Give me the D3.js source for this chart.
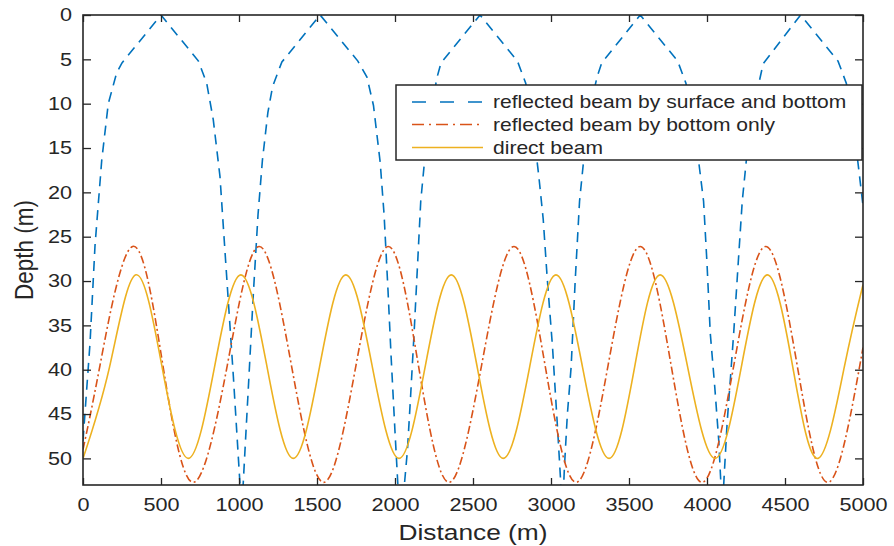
<!DOCTYPE html>
<html>
<head>
<meta charset="utf-8">
<script src="https://cdn.jsdelivr.net/npm/d3@7"></script>
<style>
  body { margin: 0; background: #fff; }
  text { font-family: "Liberation Sans", Arial, Helvetica, sans-serif; fill: #262626; }
</style>
</head>
<body>
<div id="stage"></div>
<script>
// ---- data ----
const xTicks = [0, 500, 1000, 1500, 2000, 2500, 3000, 3500, 4000, 4500, 5000];
const yTicks = [0, 5, 10, 15, 20, 25, 30, 35, 40, 45, 50];
const legendLabels = ["reflected beam by surface and bottom", "reflected beam by bottom only", "direct beam"];

// [distance (m), depth (m)]
const surfaceBottom = [
  [0, 48], [45, 37], [77, 26], [120, 16.4], [162, 10], [216, 6.5], [250, 5.4], [500, 0],
  [740, 5.2], [793, 7.7], [835, 11.8], [878, 18.2], [921, 29.5], [964, 40.8], [1006, 52.8], [1016, 56.5],
  [1028, 52.5], [1060, 42], [1092, 31.4], [1122, 22.5], [1150, 16.4], [1185, 11], [1215, 8.1], [1255, 6.2], [1275, 5.3], [1520, 0],
  [1762, 5.2], [1820, 7.0], [1862, 10.2], [1905, 16.6], [1930, 22.5], [1955, 31], [1975, 38.5], [2000, 47], [2020, 53.5], [2038, 57],
  [2055, 54], [2080, 49], [2100, 43], [2122, 36], [2145, 28], [2165, 21], [2200, 14.5], [2240, 9.8], [2270, 7], [2295, 5.4], [2545, 0],
  [2785, 5.2], [2838, 7.7], [2880, 11.8], [2922, 18.2], [2950, 23], [2975, 29.5], [3010, 37.5], [3040, 46], [3060, 52], [3073, 56.5],
  [3086, 51], [3105, 45], [3129, 39.7], [3155, 30], [3183, 21], [3220, 14.5], [3260, 9.8], [3295, 7], [3325, 5.4], [3572, 0],
  [3812, 5.2], [3865, 7.7], [3907, 11.8], [3950, 17], [3978, 21], [4000, 28], [4021, 35.9], [4050, 42], [4075, 47.9], [4098, 56],
  [4110, 52], [4129, 46], [4150, 41], [4171, 35.9], [4200, 28], [4226, 21], [4260, 15], [4300, 10.5], [4335, 7.5], [4360, 5.5], [4600, 0],
  [4840, 5.2], [4893, 7.7], [4935, 11.8], [4978, 18.2], [5000, 21.5]
];

const bottomOnly = [
  [0, 49], [109, 39.5], [318, 26.1], [512, 39.5], [707, 52.7], [925, 39.5], [1130, 26.1], [1336, 39.5],
  [1543, 52.7], [1750, 39.5], [1957, 26.1], [2150, 39.5], [2346, 52.7], [2555, 39.5], [2763, 26.1], [2962, 39.5],
  [3161, 52.7], [3366, 39.5], [3572, 26.1], [3770, 39.5], [3968, 52.7], [4172, 39.5], [4376, 26.1], [4578, 39.5],
  [4779, 52.7], [5000, 37.5]
];

const directBeam = [
  [0, 50], [170, 39.7], [340, 29.3], [507, 39.7], [675, 50], [843, 39.7], [1012, 29.3], [1180, 39.7],
  [1348, 50], [1516, 39.7], [1685, 29.3], [1855, 39.7], [2026, 50], [2193, 39.7], [2361, 29.3], [2527, 39.7],
  [2694, 50], [2863, 39.7], [3032, 29.3], [3202, 39.7], [3372, 50], [3536, 39.7], [3700, 29.3], [3876, 39.7],
  [4052, 50], [4220, 39.7], [4387, 29.3], [4550, 39.7], [4712, 50], [4880, 39.7], [5000, 30.4]
];

// ---- layout ----
const W = 894, H = 546;
const box = { left: 83, right: 863, top: 15, bottom: 485 };
const SX = 1.17;           // the figure is a bit wider than tall-scaled text
const ink = "#262626";

const svg = d3.select("#stage").append("svg")
  .attr("width", W)
  .attr("height", H);

const x = d3.scaleLinear().domain([0, 5000]).range([box.left, box.right]);
const y = d3.scaleLinear().domain([0, 53]).range([box.top, box.bottom]);

svg.append("clipPath").attr("id", "plotclip")
  .append("rect")
  .attr("x", box.left).attr("y", box.top)
  .attr("width", box.right - box.left).attr("height", box.bottom - box.top);

const plot = svg.append("g").attr("clip-path", "url(#plotclip)");

const series = [
  { data: surfaceBottom, color: "#0072BD", dash: "10,7", curve: d3.curveLinear, legendDash: "14,14" },
  { data: bottomOnly, color: "#D95319", dash: "8,3,2,3", curve: d3.curveNatural, legendDash: "12,5,2,5" },
  { data: directBeam, color: "#EDB120", dash: null, curve: d3.curveNatural, legendDash: null }
];

series.forEach(s => {
  const line = d3.line().x(d => x(d[0])).y(d => y(d[1])).curve(s.curve);
  plot.append("path")
    .attr("d", line(s.data))
    .attr("fill", "none")
    .attr("stroke", s.color)
    .attr("stroke-width", 1.6)
    .attr("stroke-dasharray", s.dash);
});

// ---- axes ----
const gx = svg.append("g")
  .attr("transform", `translate(0,${box.bottom})`)
  .call(d3.axisBottom(x).tickValues(xTicks).tickSizeInner(-7).tickSizeOuter(0).tickFormat(d3.format("d")));
gx.selectAll("text")
  .attr("y", 0).attr("dy", "0.71em")
  .attr("transform", `translate(0,13) scale(${SX},1)`);

const gy = svg.append("g")
  .attr("transform", `translate(${box.left},0)`)
  .call(d3.axisLeft(y).tickValues(yTicks).tickSizeInner(-8).tickSizeOuter(0));
gy.selectAll("text")
  .attr("x", 0).attr("dy", "0.32em")
  .attr("transform", `translate(-11,0) scale(${SX},1)`);

const gt = svg.append("g")
  .attr("transform", `translate(0,${box.top})`)
  .call(d3.axisTop(x).tickValues(xTicks).tickSizeInner(-7).tickSizeOuter(0).tickFormat(""));
const gr = svg.append("g")
  .attr("transform", `translate(${box.right},0)`)
  .call(d3.axisRight(y).tickValues(yTicks).tickSizeInner(-8).tickSizeOuter(0).tickFormat(""));

[gx, gy, gt, gr].forEach(g => {
  g.select(".domain").remove();
  g.selectAll(".tick line").attr("stroke", ink).attr("stroke-width", 1.3);
  g.selectAll("text").attr("font-size", 18.5).attr("fill", ink)
    .style("font-family", '"Liberation Sans", Arial, sans-serif');
});

svg.append("rect")
  .attr("x", box.left).attr("y", box.top)
  .attr("width", box.right - box.left).attr("height", box.bottom - box.top)
  .attr("fill", "none").attr("stroke", ink).attr("stroke-width", 1.6);

// axis titles
svg.append("text")
  .attr("transform", `translate(${(box.left + box.right) / 2},540) scale(${SX},1)`)
  .attr("text-anchor", "middle")
  .attr("font-size", 22.5)
  .text("Distance (m)");

svg.append("text")
  .attr("transform", `translate(33,${(box.top + box.bottom) / 2}) scale(${SX},1) rotate(-90)`)
  .attr("text-anchor", "middle")
  .attr("font-size", 22.5)
  .text("Depth (m)");

// ---- legend ----
const lg = svg.append("g");
lg.append("rect")
  .attr("x", 396).attr("y", 85).attr("width", 466).attr("height", 75)
  .attr("fill", "#fff").attr("stroke", ink).attr("stroke-width", 1.5);

const rowY = [102, 124.5, 147.5];
series.forEach((s, i) => {
  lg.append("line")
    .attr("x1", 412).attr("x2", 483)
    .attr("y1", rowY[i]).attr("y2", rowY[i])
    .attr("stroke", s.color).attr("stroke-width", 1.4)
    .attr("stroke-dasharray", s.legendDash);
  lg.append("text")
    .attr("transform", `translate(493,${rowY[i]}) scale(${SX},1)`)
    .attr("dy", "0.36em")
    .attr("font-size", 18)
    .text(legendLabels[i]);
});
</script>
</body>
</html>
